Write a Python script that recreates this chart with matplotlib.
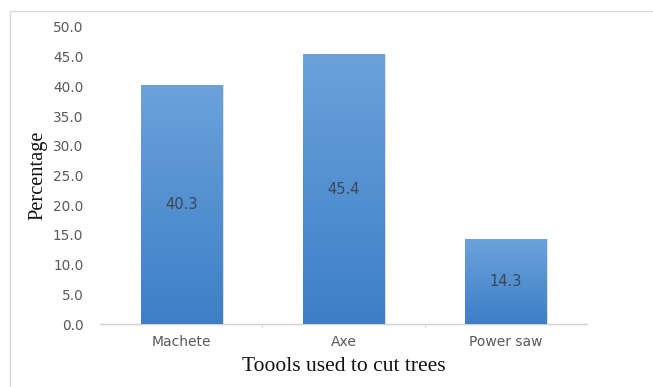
import numpy as np
import matplotlib
matplotlib.use("Agg")
import matplotlib.pyplot as plt
from matplotlib.patches import Rectangle
from matplotlib.colors import LinearSegmentedColormap

categories = ["Machete", "Axe", "Power saw"]
values = [40.3, 45.4, 14.3]
yticks = [0, 5, 10, 15, 20, 25, 30, 35, 40, 45, 50]

fig = plt.figure(figsize=(6.53, 3.87), dpi=100)
fig.patch.set_facecolor("white")

# light frame around the chart area
frame = Rectangle((10 / 653, -0.05), 1.0, 1 - 11 / 387 + 0.05, transform=fig.transFigure,
                  fill=False, edgecolor="#d9d9d9", linewidth=1.0)
fig.patches.append(frame)

ax = fig.add_axes([100 / 653, 1 - 324 / 387, 487 / 653, 297 / 387])

grad = LinearSegmentedColormap.from_list("bar", ["#3d7fc7", "#6ba2da"])
gradient = np.linspace(0, 1, 256).reshape(-1, 1)
width = 0.5
for i, (cat, v) in enumerate(zip(categories, values)):
    # soft shadow on the right
    sh = Rectangle((i - width / 2 + 0.012, 0), width, v, facecolor="#000000",
                   alpha=0.12, edgecolor="none", zorder=1)
    ax.add_patch(sh)
    bar = ax.bar(i, v, width=width, color="#4a8ad0", zorder=2)[0]
    im = ax.imshow(gradient, extent=[i - width / 2, i + width / 2, 0, v], origin="lower",
                   cmap=grad, aspect="auto", zorder=3)
    im.set_clip_path(bar)
    ax.text(i, v / 2, f"{v:.1f}", ha="center", va="center", fontsize=10.5,
            color="#3d4654", zorder=4)

ax.set_xlim(-0.5, len(categories) - 0.5)
ax.set_ylim(0, 50)
ax.set_yticks(yticks)
ax.set_yticklabels([f"{t:.1f}" for t in yticks])
ax.set_xticks(range(len(categories)))
ax.set_xticklabels(categories)
ax.set_xticks([0.5, 1.5], minor=True)

for s in ["top", "right", "left"]:
    ax.spines[s].set_visible(False)
ax.spines["bottom"].set_color("#d0d0d0")
ax.spines["bottom"].set_linewidth(1.0)

ax.tick_params(axis="y", length=0, labelsize=9.8, labelcolor="#595959", pad=12)
ax.tick_params(axis="x", which="major", length=0, labelsize=10, labelcolor="#595959", pad=8)
ax.tick_params(axis="x", which="minor", length=3, color="#d0d0d0", direction="out")

ax.set_ylabel("Percentage", family="Liberation Serif", fontsize=14.7, color="#111111", labelpad=4)
ax.set_xlabel("Toools used to cut trees", family="Liberation Serif", fontsize=15.5,
              color="#111111", labelpad=6)

fig.savefig("out.png", dpi=100)
